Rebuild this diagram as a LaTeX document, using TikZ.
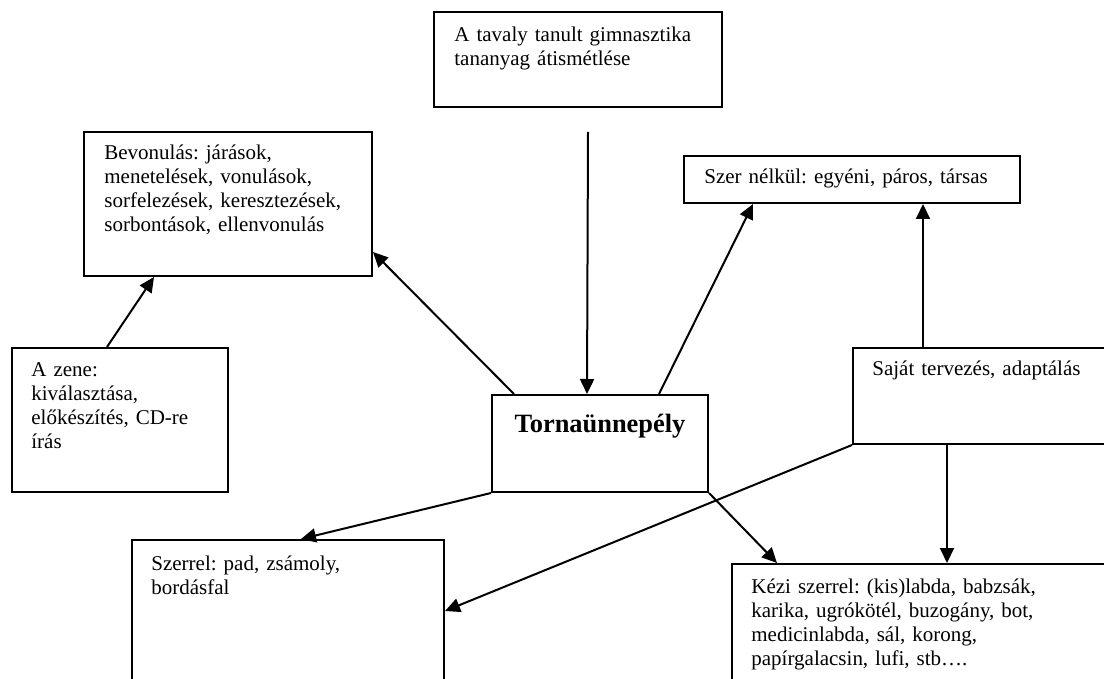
\documentclass[tikz,border=0pt]{standalone}
\usepackage{fontspec}
\setmainfont{Liberation Serif}
\usetikzlibrary{arrows.meta,calc,fit}
\frenchspacing
\begin{document}
\begin{tikzpicture}[x=0.5pt,y=-0.5pt,
  box/.style={draw, line width=1pt, inner sep=0pt},
  txt/.style={anchor=base west, inner sep=0pt, align=left, text width=180pt,
    font=\fontsize{10.5pt}{12pt}\selectfont},
  boldtxt/.style={anchor=base, inner sep=0pt, font=\fontsize{13.2pt}{15pt}\selectfont\bfseries},
  arr/.style={line width=1pt, -{Triangle[length=7.5pt,width=7pt]}}]
\useasboundingbox (0,0) rectangle (1104,679);
\clip (0,0) rectangle (1104,679);
% boxes
\node[box, fit={(434,12)(722,107)}] (top) {};
\node[box, fit={(84,132)(372,276)}] (bev) {};
\node[box, fit={(684,156)(1020,203)}] (sznk) {};
\node[box, fit={(12,348)(228,492)}] (zene) {};
\node[box, fit={(492,395)(708,492)}] (torna) {};
\node[box, fit={(853,348)(1115,444)}] (saj) {};
\node[box, fit={(132,540)(444,690)}] (szr) {};
\node[box, fit={(732,564)(1115,690)}] (kezi) {};
% texts
\node[txt] (topt) at ($(top.north west)+(21,31)$) {A tavaly tanult gimnasztika\\tananyag átismétlése};
\node[txt] (bevt) at ($(bev.north west)+(21,29)$) {Bevonulás: járások,\\menetelések, vonulások,\\sorfelezések, keresztezések,\\sorbontások, ellenvonulás};
\node[txt] (sznkt) at ($(sznk.north west)+(21,29)$) {Szer nélkül: egyéni, páros, társas};
\node[txt] (zenet) at ($(zene.north west)+(20,30)$) {A zene:\\kiválasztása,\\előkészítés, CD-re\\írás};
\node[boldtxt] (tornat) at ($(torna.north)+(0,38)$) {Tornaünnepély};
\node[txt] (sajt) at ($(saj.north west)+(20,29)$) {Saját tervezés, adaptálás};
\node[txt] (szrt) at ($(szr.north west)+(20,31)$) {Szerrel: pad, zsámoly,\\bordásfal};
\node[txt] (kezit) at ($(kezi.north west)+(20,30)$) {Kézi szerrel: (kis)labda, babzsák,\\karika, ugrókötél, buzogány, bot,\\medicinlabda, sál, korong,\\papírgalacsin, lufi, stb….};
% connectors
\coordinate (topend) at (588,132);
\draw[arr] (topend) -- ($(torna.north west)+(96,0)$);
\draw[arr] ($(torna.north west)+(23,0)$) -- ($(bev.north east)+(0,121)$);
\draw[arr] ($(torna.north west)+(168,0)$) -- ($(sznk.south west)+(70,0)$);
\draw[arr] ($(zene.north west)+(96,0)$) -- ($(bev.south west)+(71,0)$);
\draw[arr] ($(saj.north west)+(71,0)$) -- ($(sznk.south west)+(240,0)$);
\draw[arr] ($(saj.south west)+(95,0)$) -- ($(kezi.north west)+(216,0)$);
\draw[arr] (saj.south west) -- ($(szr.north east)+(0,72)$);
\draw[arr] (torna.south west) -- ($(szr.north west)+(170,0)$);
\draw[arr] (torna.south east) -- ($(kezi.north west)+(46,0)$);
\end{tikzpicture}
\end{document}
